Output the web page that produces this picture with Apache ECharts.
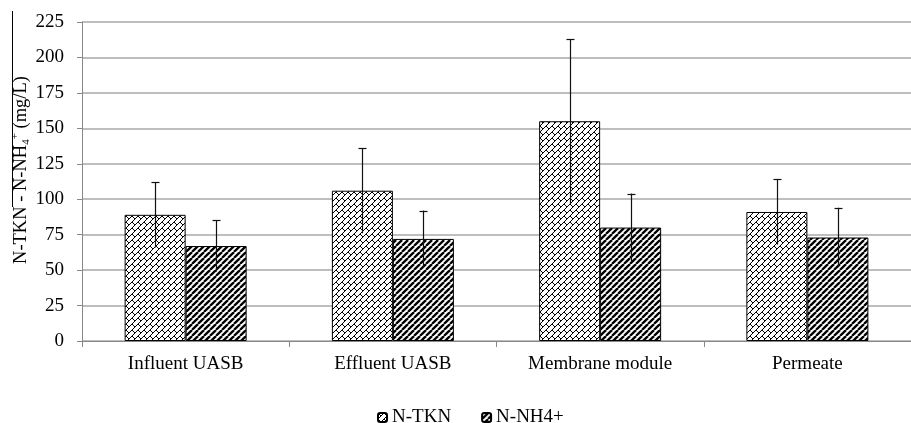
<!DOCTYPE html>
<html>
<head>
<meta charset="utf-8">
<script src="https://cdn.jsdelivr.net/npm/echarts@6/dist/echarts.min.js"></script>
<style>html,body{margin:0;padding:0;background:#fff}#c{width:911px;height:423px}</style>
</head>
<body>
<div id="c"></div>
<script>
const categories = ['Influent UASB', 'Effluent UASB', 'Membrane module', 'Permeate'];
const tknValues = [89, 106, 155, 91];
const tknErrors = [23, 30, 58, 23];
const nh4Values = [67, 72, 80, 73];
const nh4Errors = [18, 20, 24, 21];
const seriesNames = ['N-TKN', 'N-NH4+'];
const yTicks = { min: 0, max: 225, interval: 25 };

const FONT = '"Liberation Serif", "Times New Roman", serif';

function weavePattern() {
  const t = 6;
  const c = document.createElement('canvas');
  c.width = t; c.height = t;
  const g = c.getContext('2d');
  g.fillStyle = '#fff'; g.fillRect(0, 0, t, t);
  g.strokeStyle = '#000'; g.lineWidth = 1;
  const offs = [-t, 0, t];
  offs.forEach(dx => offs.forEach(dy => {
    g.beginPath();
    g.moveTo(0 + dx, t + dy); g.lineTo(t + dx, 0 + dy);
    g.moveTo(0 + dx, 0 + dy); g.lineTo(t / 2 + dx, t / 2 + dy);
    g.stroke();
  }));
  return c;
}
function stripePattern() {
  const t = 6;
  const c = document.createElement('canvas');
  c.width = t; c.height = t;
  const g = c.getContext('2d');
  g.fillStyle = '#fff'; g.fillRect(0, 0, t, t);
  g.strokeStyle = '#000'; g.lineWidth = 2.3;
  [-t, 0, t].forEach(d => {
    g.beginPath();
    g.moveTo(0 + d, t); g.lineTo(t + d, 0);
    g.stroke();
  });
  return c;
}

const tknFill = { image: weavePattern(), repeat: 'repeat' };
const nh4Fill = { image: stripePattern(), repeat: 'repeat' };

const BAR_W = 61;

function errorSeries(values, errors, offset) {
  return {
    type: 'custom',
    silent: true,
    z: 10,
    data: values.map((v, i) => [i, v, errors[i]]),
    renderItem: function (params, api) {
      const i = api.value(0), v = api.value(1), e = api.value(2);
      const top = api.coord([i, v + e]);
      const bot = api.coord([i, v - e]);
      const x = Math.round(top[0] + offset) + 0.5;
      const style = { stroke: '#111', lineWidth: 1.2 };
      return {
        type: 'group',
        children: [
          { type: 'line', shape: { x1: x, y1: top[1], x2: x, y2: bot[1] }, style: style },
          { type: 'line', shape: { x1: x - 4, y1: Math.round(top[1]) + 0.5, x2: x + 4, y2: Math.round(top[1]) + 0.5 }, style: style }
        ]
      };
    }
  };
}

const chart = echarts.init(document.getElementById('c'));
chart.setOption({
  animation: false,
  backgroundColor: '#fff',
  grid: { left: 82, top: 22, bottom: 82, width: 836 },
  legend: {
    data: seriesNames,
    top: 403,
    left: 372,
    itemWidth: 9,
    itemHeight: 9,
    itemGap: 30,
    textStyle: { fontFamily: FONT, fontSize: 19, color: '#000' }
  },
  xAxis: {
    type: 'category',
    data: categories,
    axisLine: { lineStyle: { color: '#888', width: 1 } },
    axisTick: { show: true, length: 6, interval: 0, lineStyle: { color: '#888' } },
    axisLabel: { margin: 14, fontFamily: FONT, fontSize: 19, color: '#000', interval: 0 }
  },
  yAxis: {
    type: 'value',
    min: yTicks.min, max: yTicks.max, interval: yTicks.interval,
    axisLine: { show: true, lineStyle: { color: '#888', width: 1 } },
    axisTick: { show: true, length: 5, lineStyle: { color: '#888' } },
    splitLine: { lineStyle: { color: '#a8a8a8', width: 1.5 } },
    axisLabel: { margin: 18, fontFamily: FONT, fontSize: 19, color: '#000' }
  },
  graphic: [
    {
      type: 'text',
      x: 21, y: 170,
      rotation: Math.PI / 2,
      style: {
        text: '{b|N-TKN - N-NH}{s|4}{p|+}{b| (mg/L)}',
        align: 'center', verticalAlign: 'middle',
        fill: '#000',
        rich: {
          b: { fontFamily: FONT, fontSize: 18.5, lineHeight: 22, verticalAlign: 'middle' },
          s: { fontFamily: FONT, fontSize: 11, lineHeight: 22, verticalAlign: 'bottom' },
          p: { fontFamily: FONT, fontSize: 11, lineHeight: 22, verticalAlign: 'top' }
        }
      }
    },
    {
      type: 'line',
      shape: { x1: 12.5, y1: 11, x2: 12.5, y2: 207 },
      style: { stroke: '#000', lineWidth: 1 }
    }
  ],
  series: [
    {
      name: seriesNames[0], type: 'bar', data: tknValues,
      barWidth: BAR_W, barGap: '0%',
      itemStyle: { color: tknFill, borderColor: '#000', borderWidth: 1 }
    },
    {
      name: seriesNames[1], type: 'bar', data: nh4Values,
      barWidth: BAR_W, barGap: '0%',
      itemStyle: { color: nh4Fill, borderColor: '#000', borderWidth: 1 }
    },
    errorSeries(tknValues, tknErrors, -BAR_W / 2),
    errorSeries(nh4Values, nh4Errors, BAR_W / 2)
  ]
});
</script>
</body>
</html>
